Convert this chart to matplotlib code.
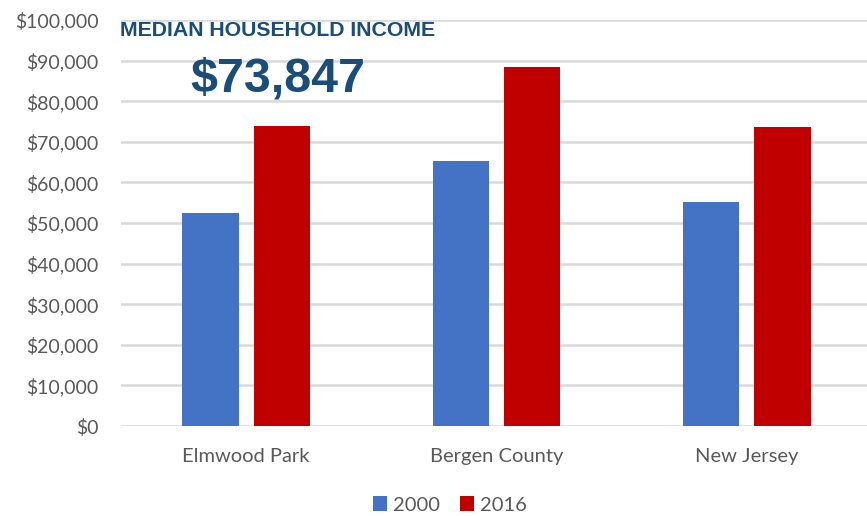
import numpy as np
import matplotlib.pyplot as plt
from matplotlib.ticker import FuncFormatter

# datos
lugares = ['Elmwood Park', 'Bergen County', 'New Jersey']
ingreso_2000 = [52400, 65241, 55146]
ingreso_2016 = [73847, 88500, 73702]
anios = ['2000', '2016']

azul = '#4472C4'
rojo = '#C00000'
gris = '#595959'
titulo_color = '#1A4E78'

fig = plt.figure(figsize=(8.67, 5.16), dpi=100)
ax = fig.add_axes([121 / 867, 1 - 426 / 516, 751 / 867, (426 - 20) / 516])

x = np.arange(len(lugares))
ancho = 0.225
ax.bar(x - 0.142, ingreso_2000, ancho, color=azul, label=anios[0], zorder=3)
ax.bar(x + 0.142, ingreso_2016, ancho, color=rojo, label=anios[1], zorder=3)

ax.set_xlim(-0.5, 2.5)
ax.set_ylim(0, 100000)
ax.set_yticks(np.arange(0, 100001, 10000))
ax.yaxis.set_major_formatter(FuncFormatter(lambda v, p: '${:,.0f}'.format(v)))
ax.set_xticks(x)
ax.set_xticklabels(lugares)

ax.grid(axis='y', color='#D9D9D9', linewidth=1.8, zorder=0)
for s in ax.spines.values():
    s.set_visible(False)
ax.tick_params(axis='y', length=0, labelsize=14, labelcolor=gris, pad=16)
ax.tick_params(axis='x', length=0, labelsize=14.5, labelcolor=gris, pad=16)
for t in ax.get_xticklabels() + ax.get_yticklabels():
    t.set_fontfamily('Lato')

fig.text(120 / 867, 1 - 30 / 516, 'MEDIAN HOUSEHOLD INCOME', fontsize=15.3,
         fontweight='bold', family='Liberation Sans', color=titulo_color, va='center')
fig.text(278 / 867, 1 - 79 / 516, '${:,}'.format(ingreso_2016[0]), fontsize=34.8,
         fontweight='bold', family='Liberation Sans', color=titulo_color,
         ha='center', va='center')

leg = fig.legend(loc='center', bbox_to_anchor=(450 / 867, 1 - 505 / 516), ncol=2,
                 frameon=False, handlelength=0.7, handleheight=0.7,
                 handletextpad=0.3, columnspacing=1.0,
                 prop={'family': 'Lato', 'size': 14.5})
for t in leg.get_texts():
    t.set_color(gris)

fig.savefig('out.png', dpi=100)
